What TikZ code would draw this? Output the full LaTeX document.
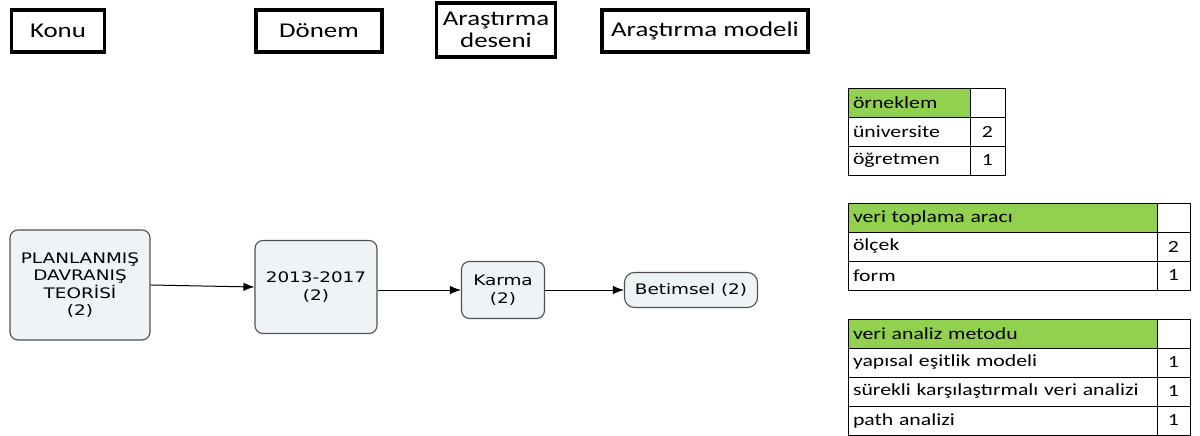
\documentclass[tikz,border=0pt]{standalone}
\usepackage{fontspec}
\setmainfont{Carlito}[FakeStretch=1.28]
\newfontfamily\verd{DejaVu Sans}[FakeStretch=1.27]
\usetikzlibrary{arrows.meta}
\definecolor{xlgreen}{HTML}{92D050}
\definecolor{nodefill}{HTML}{EEF3F6}
\definecolor{nodeline}{HTML}{505050}
\tikzset{
  head/.style={draw, line width=3.5pt, inner sep=0pt, font=\fontsize{21}{25}\selectfont, align=center},
  flow/.style={draw=nodeline, fill=nodefill, line width=1.1pt, rounded corners=8pt, inner sep=0pt,
    font=\verd\fontsize{14.5}{17.5}\selectfont, align=center},
  arr/.style={-{Latex[length=11pt,width=8.5pt]}, line width=1pt},
  cellL/.style={draw, line width=0.8pt, minimum height=29pt, inner ysep=0pt, inner xsep=5pt,
    text width=#1, align=left, font=\fontsize{17}{20}\selectfont},
  cellR/.style={draw, line width=0.8pt, minimum height=29pt, inner sep=0pt,
    minimum width=#1, font=\fontsize{17}{20}\selectfont},
}
\begin{document}
\begin{tikzpicture}[x=1pt,y=-1pt]
\useasboundingbox (0,0) rectangle (1200,436);
% headers
\node[head, minimum width=93pt, minimum height=42pt] (h1) at (58,31) {Konu};
\node[head, minimum width=126pt, minimum height=42pt] (h2) at (319,31) {Dönem};
\node[head, minimum width=119pt, minimum height=54pt] (h3) at (496,30) {Araştırma\\[-3pt]deseni};
\node[head, minimum width=206pt, minimum height=42pt] (h4) at (705,31) {Araştırma modeli};
% flow
\node[flow, minimum width=140pt, minimum height=110pt] (p) at (80,285) {PLANLANMIŞ\\DAVRANIŞ\\TEORİSİ\\(2)};
\node[flow, minimum width=122pt, minimum height=93pt] (d) at (316,287) {2013-2017\\(2)};
\node[flow, minimum width=83pt, minimum height=57pt] (k) at (503,290) {Karma\\(2)};
\node[flow, minimum width=133pt, minimum height=35pt, rounded corners=10pt] (b) at (691,290) {Betimsel (2)};
\draw[arr] (p.east) -- (d.west);
\draw[arr] (d.east |- k.west) -- (k.west);
\draw[arr] (k.east) -- (b.west);
% table 1
\node[cellL=112pt, fill=xlgreen] (t1a) at (909,102.5) {örneklem};
\node[cellR=35pt] (t1b) at (987.5,102.5) {};
\node[cellL=112pt] (t1c) at (909,131.5) {üniversite};
\node[cellR=35pt] (t1d) at (987.5,131.5) {2};
\node[cellL=112pt] (t1e) at (909,160.5) {öğretmen};
\node[cellR=35pt] (t1f) at (987.5,160.5) {1};
% table 2
\node[cellL=299pt, fill=xlgreen] (t2a) at (1002.5,217.5) {veri toplama aracı};
\node[cellR=33pt] (t2b) at (1173.5,217.5) {};
\node[cellL=299pt] (t2c) at (1002.5,246.5) {ölçek};
\node[cellR=33pt] (t2d) at (1173.5,246.5) {2};
\node[cellL=299pt] (t2e) at (1002.5,275.5) {form};
\node[cellR=33pt] (t2f) at (1173.5,275.5) {1};
% table 3
\node[cellL=299pt, fill=xlgreen] (t3a) at (1002.5,333.5) {veri analiz metodu};
\node[cellR=33pt] (t3b) at (1173.5,333.5) {};
\node[cellL=299pt] (t3c) at (1002.5,362.5) {yapısal eşitlik modeli};
\node[cellR=33pt] (t3d) at (1173.5,362.5) {1};
\node[cellL=299pt] (t3e) at (1002.5,391.5) {sürekli karşılaştırmalı veri analizi};
\node[cellR=33pt] (t3f) at (1173.5,391.5) {1};
\node[cellL=299pt] (t3g) at (1002.5,420.5) {path analizi};
\node[cellR=33pt] (t3h) at (1173.5,420.5) {1};
\end{tikzpicture}
\end{document}
